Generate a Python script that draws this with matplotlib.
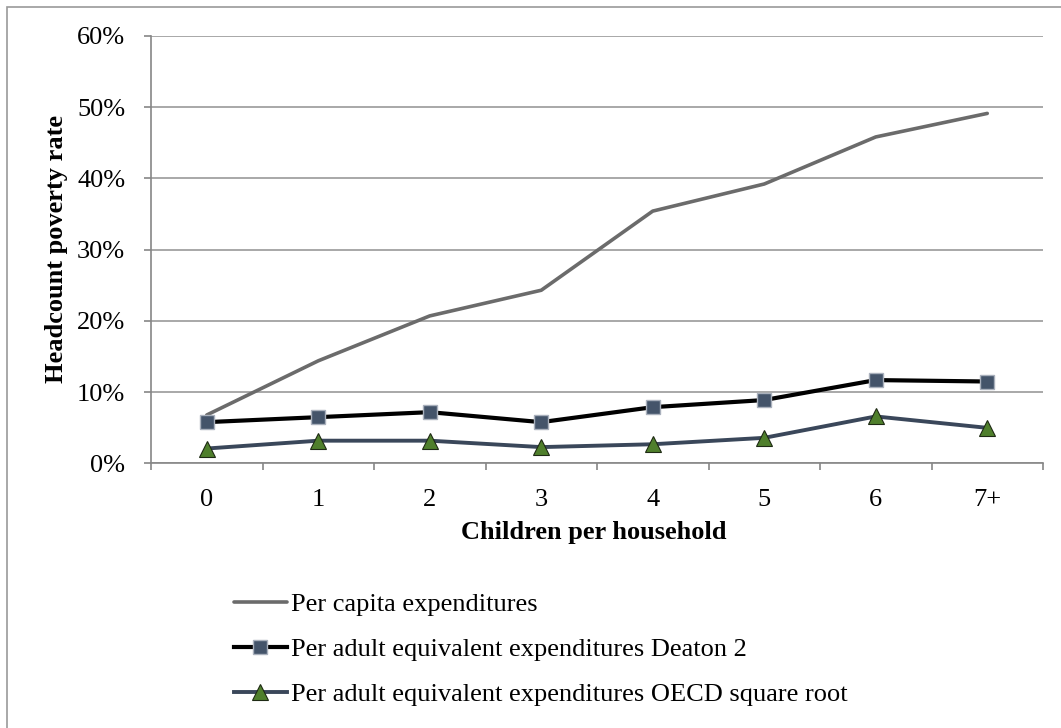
import matplotlib
matplotlib.use("Agg")
import matplotlib.pyplot as plt
from matplotlib.patches import Rectangle

categories = ["0", "1", "2", "3", "4", "5", "6", "7+"]
per_capita = [6.8, 14.4, 20.7, 24.3, 35.4, 39.2, 45.8, 49.1]
deaton2 = [5.8, 6.5, 7.2, 5.8, 7.9, 8.9, 11.7, 11.5]
oecd_sqrt = [2.1, 3.2, 3.2, 2.3, 2.7, 3.6, 6.6, 5.0]
y_ticks = [0, 10, 20, 30, 40, 50, 60]

plt.rcParams["font.family"] = ["Liberation Serif", "DejaVu Serif"]
FS = 19

W, H = 1061, 728
fig = plt.figure(figsize=(W / 100, H / 100), dpi=100)
fig.patch.set_facecolor("white")

# chart-area frame
fig.patches.append(Rectangle((7 / W, -0.05), 1.2, 1 - 7 / H + 0.05,
                             transform=fig.transFigure, fill=False,
                             edgecolor="#9a9a9a", linewidth=1.2))

left, right = 151 / W, 1043 / W
bottom, top = 1 - 463.5 / H, 1 - 35.7 / H
ax = fig.add_axes([left, bottom, right - left, top - bottom])

x = list(range(len(categories)))
ax.plot(x, per_capita, color="#6b6b6b", linewidth=2.6, solid_capstyle="round",
        label="Per capita expenditures", zorder=3)
ax.plot(x, deaton2, color="black", linewidth=3.0, marker="s", markersize=10,
        markerfacecolor="#44546a", markeredgecolor="#a9b0bc", markeredgewidth=1.0,
        label="Per adult equivalent expenditures Deaton 2", zorder=4)
ax.plot(x, oecd_sqrt, color="#3a475a", linewidth=2.8, marker="^", markersize=11,
        markerfacecolor="#4f7f2c", markeredgecolor="#1e2a14", markeredgewidth=0.8,
        label="Per adult equivalent expenditures OECD square root", zorder=4)

ax.set_xlim(-0.5, len(categories) - 0.5)
ax.set_ylim(0, 60)
ax.set_yticks(y_ticks)
ax.set_yticklabels([f"{v}%" for v in y_ticks], fontsize=FS)
ax.yaxis.grid(True, color="#9a9a9a", linewidth=1.2)
ax.set_axisbelow(True)

ax.set_xticks(x)
ax.set_xticklabels(categories, fontsize=FS)
ax.set_xticks([i - 0.5 for i in range(len(categories) + 1)], minor=True)
ax.tick_params(axis="x", which="major", length=0, pad=18.5)
ax.tick_params(axis="x", which="minor", length=5, color="#868686", width=1.2)
ax.tick_params(axis="y", length=5, color="#868686", width=1.2, pad=13.5)

for side in ("top", "right"):
    ax.spines[side].set_visible(False)
for side in ("left", "bottom"):
    ax.spines[side].set_color("#868686")
    ax.spines[side].set_linewidth(1.2)

fig.text(594 / W, 1 - 533 / H, "Children per household", fontsize=FS,
         fontweight="bold", ha="center", va="center")
fig.text(56 / W, 1 - 249 / H, "Headcount poverty rate", fontsize=FS,
         fontweight="bold", ha="center", va="center", rotation=90)

fig.legend(loc="upper left", bbox_to_anchor=(234 / W, 1 - 593 / H),
           frameon=False, fontsize=FS, handlelength=2.0, handletextpad=0.15,
           labelspacing=0.81, borderaxespad=0, borderpad=0)

fig.savefig("out.png", dpi=100, facecolor="white")
